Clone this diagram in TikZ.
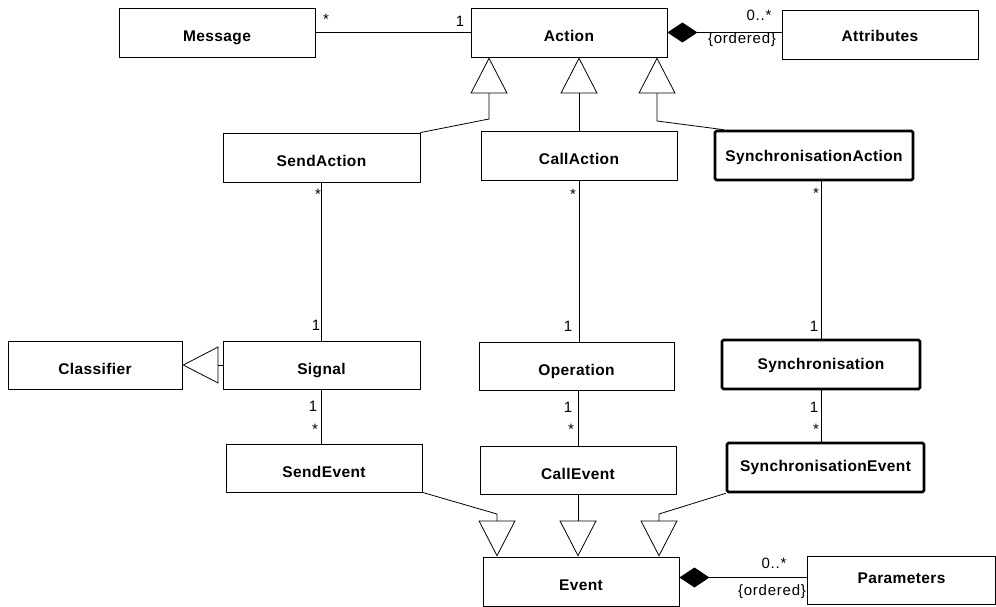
\documentclass[tikz,border=0pt]{standalone}
\usepackage{fontspec}
\setmainfont{Liberation Sans}
\newfontfamily\titlefont[LetterSpace=2.5]{Liberation Sans}
\newfontfamily\labelfont[LetterSpace=5]{Liberation Sans}
\usetikzlibrary{arrows.meta}
\begin{document}
\begin{tikzpicture}[x=1pt,y=-1pt,
  box/.style={draw, line width=0.8pt, minimum width=196pt, minimum height=49pt, inner sep=0pt,
    text height=18pt, text depth=0pt,
    font=\titlefont\fontsize{15.5}{18}\selectfont\bfseries},
  thickbox/.style={box, line width=2.6pt, rounded corners=1.5pt},
  lbl/.style={inner sep=0pt, anchor=base, font=\labelfont\fontsize{15}{17}\selectfont},
  assoc/.style={line width=0.8pt},
  gen/.style={line width=0.8pt, -{Triangle[open,length=36pt,width=37pt]}},
  comp/.style={line width=1.6pt, {Diamond[length=30pt,width=20pt]}-}
]
\useasboundingbox (0,0) rectangle (996,607);

% boxes
\node[box] (msg) at (217,32.5) {Message};
\node[box] (act) at (569,32.5) {Action};
\node[box, text height=14.5pt] (att) at (880,34.5) {Attributes};
\node[box, minimum width=197pt] (sact) at (321.5,157.5) {SendAction};
\node[box] (cact) at (579,155.5) {CallAction};
\node[thickbox, minimum width=198pt, text height=12.5pt] (yact) at (814,155.5) {SynchronisationAction};
\node[box, minimum width=174pt, minimum height=48pt] (cls) at (95,365) {Classifier};
\node[box, minimum width=197pt, minimum height=48pt] (sig) at (321.5,365) {Signal};
\node[box, minimum width=195pt, minimum height=48pt] (op) at (576.5,366) {Operation};
\node[thickbox, minimum width=198pt, text height=10pt] (syn) at (821,364.5) {Synchronisation};
\node[box, minimum height=48pt] (sev) at (324,468) {SendEvent};
\node[box, minimum height=48pt] (cev) at (578,470) {CallEvent};
\node[thickbox, minimum width=197pt, text height=8.5pt] (yev) at (825.5,467.5) {SynchronisationEvent};
\node[box, text height=17pt] (ev) at (581,581.5) {Event};
\node[box, minimum width=188pt, minimum height=48pt, text height=6pt] (par) at (901.5,580) {Parameters};

% associations
\draw[assoc] (msg.east) -- (act.west);
\node[lbl] at (326,25) {*};
\node[lbl] at (460,27) {1};

\draw[comp] (act.east) -- (act.east -| att.west);
\node[lbl] at (759,21) {0..*};
\node[lbl] at (742,44) {\{ordered\}};

\draw[comp] ([yshift=4pt]ev.east) -- ([yshift=4pt]ev.east -| par.west);
\node[lbl] at (774,568) {0..*};
\node[lbl] at (772,595) {\{ordered\}};

\draw[assoc] (sact.south) -- (sig.north);
\node[lbl] at (318,200) {*};
\node[lbl] at (316,330) {1};
\draw[assoc] (sig.south) -- (sig.south |- sev.north);
\node[lbl] at (313,411) {1};
\node[lbl] at (315,434) {*};

\draw[assoc] (cact.south) -- (cact.south |- op.north);
\node[lbl] at (573,200) {*};
\node[lbl] at (568,331) {1};
\draw[assoc] (cev.north |- op.south) -- (cev.north);
\node[lbl] at (568,412) {1};
\node[lbl] at (571,434) {*};

\draw[assoc] (syn.north |- yact.south) -- (syn.north);
\node[lbl] at (816,198) {*};
\node[lbl] at (814,331) {1};
\draw[assoc] (syn.south) -- (syn.south |- yev.north);
\node[lbl] at (814,412) {1};
\node[lbl] at (816,434) {*};

% generalisations
\coordinate (a1) at ([xshift=-80pt]act.south);
\coordinate (a3) at ([xshift=88pt]act.south);
\draw[gen] (sact.north east) -- (a1 |- 0,119) -- (a1);
\draw[gen] (cact.north) -- (cact.north |- act.south);
\draw[gen] ([xshift=10pt]yact.north west) -- (a3 |- 0,121) -- (a3);
\draw[gen] (sig.west) -- (cls.east);

\coordinate (e1) at ([xshift=-84pt]ev.north);
\coordinate (e3) at ([xshift=78pt]ev.north);
\draw[gen] (sev.south east) -- (e1 |- 0,514) -- (e1);
\draw[gen] (cev.south) -- (cev.south |- ev.north);
\draw[gen] (yev.south west) -- (e3 |- 0,514) -- (e3);
\end{tikzpicture}
\end{document}
